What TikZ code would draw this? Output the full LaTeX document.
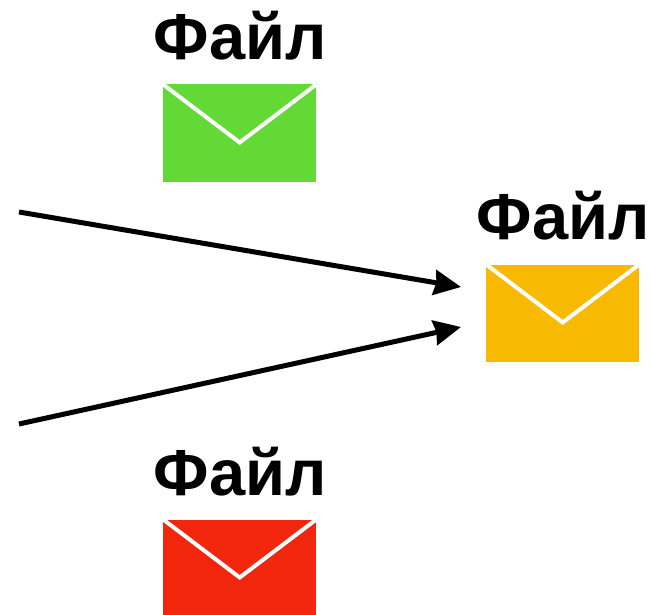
\documentclass[tikz,border=0pt]{standalone}
\usepackage{fontspec}
\setmainfont{Liberation Sans}
\usetikzlibrary{arrows,arrows.meta,positioning}
\definecolor{mailgreen}{HTML}{62D935}
\definecolor{mailyellow}{HTML}{F8BA00}
\definecolor{mailred}{HTML}{F2260D}
\tikzset{
  mailbox/.style={minimum width=153bp,minimum height=97bp,inner sep=0pt,outer sep=0pt},
  filelabel/.style={font=\fontsize{65bp}{68bp}\selectfont\bfseries,inner sep=0pt,anchor=base},
  flap/.style={draw=white,line width=4bp},
  flow/.style={draw=black,line width=5bp,-{Stealth[length=27bp,width=25bp,inset=2bp]}}
}
\newcommand{\mailflap}[1]{\draw[flap] (#1.north west) -- ([yshift=-58bp]#1.north) -- (#1.north east);}
\begin{document}
\begin{tikzpicture}[x=1bp,y=-1bp]
  \useasboundingbox (0,0) rectangle (651,615);
  \node[mailbox,fill=mailgreen]  (green)  at (239.7,133) {};
  \node[mailbox,fill=mailyellow] (yellow) at (562.7,313) {};
  \node[mailbox,fill=mailred]    (red)    at (239.7,568) {};
  \node[filelabel] (lgreen)  at (240,60)  {Файл};
  \node[filelabel] (lyellow) at (563,239) {Файл};
  \node[filelabel] (lred)    at (240,495) {Файл};
  \mailflap{green}
  \mailflap{yellow}
  \mailflap{red}
  \coordinate (in1) at (19,212);
  \coordinate (in2) at (19,424);
  \coordinate (tip1) at (461,287);
  \coordinate (tip2) at (461,327);
  \draw[flow] (in1) -- (tip1);
  \draw[flow] (in2) -- (tip2);
\end{tikzpicture}
\end{document}
